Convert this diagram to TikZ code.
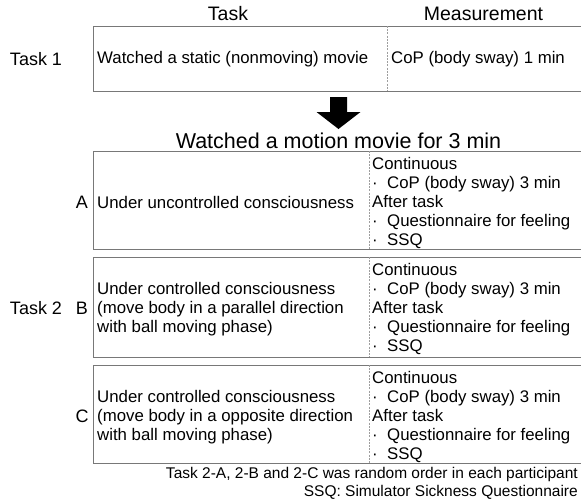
\documentclass[tikz,border=0pt]{standalone}
\usepackage{fontspec}
\setmainfont{Liberation Sans}

\definecolor{framegray}{gray}{0.47}
\definecolor{splitgray}{gray}{0.62}

\newcommand{\bul}{\makebox[15pt][l]{\textperiodcentered}}
\newcommand{\measlist}{Continuous\\\bul CoP (body sway) 3 min\\After task\\\bul Questionnaire for feeling\\\bul SSQ}

\tikzset{
    frame/.style={draw=framegray, line width=0.9pt},
    split/.style={draw=splitgray, line width=0.8pt, dash pattern=on 2pt off 1.2pt},
    body/.style={anchor=west, inner sep=0pt, align=left, font=\fontsize{16.8}{19}\selectfont},
    head/.style={inner sep=0pt, font=\fontsize{19.5}{21}\selectfont},
    side/.style={inner sep=0pt, font=\fontsize{18}{20}\selectfont},
    note/.style={anchor=east, inner sep=0pt, font=\fontsize{15.5}{17}\selectfont}
}

\begin{document}
\begin{tikzpicture}[x=1pt, y=-1pt]
    \useasboundingbox (0,0) rectangle (581,501);

    % column heads
    \node[head] (headtask) at (228,14) {Task};
    \node[head] (headmeas) at (483.5,14) {Measurement};

    % task 1
    \draw[frame] (93,26) rectangle (590,91);
    \draw[split] (387,26) -- (387,91);
    \node[side] (task1) at (36,59.5) {Task 1};
    \node[body] (static) at (97,59.5) {Watched a static (nonmoving) movie};
    \node[body] (cop1) at (391,59.5) {CoP (body sway) 1 min};

    % block arrow down
    \coordinate (arrowtop) at (338.5,97);
    \fill[black] (arrowtop) ++(-8.5,0) -- ++(17,0) -- ++(0,15) -- ++(13.5,0)
        -- (338.5,129) -- (316.5,112) -- ++(13.5,0) -- cycle;

    \node[inner sep=0pt, font=\fontsize{21.5}{24}\selectfont] (motion) at (338.5,141) {Watched a motion movie for 3 min};

    % task 2, conditions A, B and C
    \draw[frame] (93,151) rectangle (590,249);
    \draw[split] (369,151) -- (369,249);
    \draw[frame] (93,257) rectangle (590,357);
    \draw[split] (369,257) -- (369,357);
    \draw[frame] (93,365) rectangle (590,463);
    \draw[split] (369,365) -- (369,463);

    \node[side] (condA) at (82,202.5) {A};
    \node[side] (condB) at (82,308.5) {B};
    \node[side] (condC) at (82,416.5) {C};
    \node[side] (task2) at (36,308.5) {Task 2};

    \node[body] (textA) at (97,202.5) {Under uncontrolled consciousness};
    \node[body] (textB) at (97,309.5) {Under controlled consciousness\\(move body in a parallel direction\\with ball moving phase)};
    \node[body] (textC) at (97,417.5) {Under controlled consciousness\\(move body in a opposite direction\\with ball moving phase)};

    \node[body] (measA) at (372,202.5) {\measlist};
    \node[body] (measB) at (372,308.5) {\measlist};
    \node[body] (measC) at (372,416.5) {\measlist};

    % notes
    \node[note] (order) at (578,474) {Task 2-A, 2-B and 2-C was random order in each participant};
    \node[note] (ssq) at (578,492.5) {SSQ: Simulator Sickness Questionnaire};
\end{tikzpicture}
\end{document}
